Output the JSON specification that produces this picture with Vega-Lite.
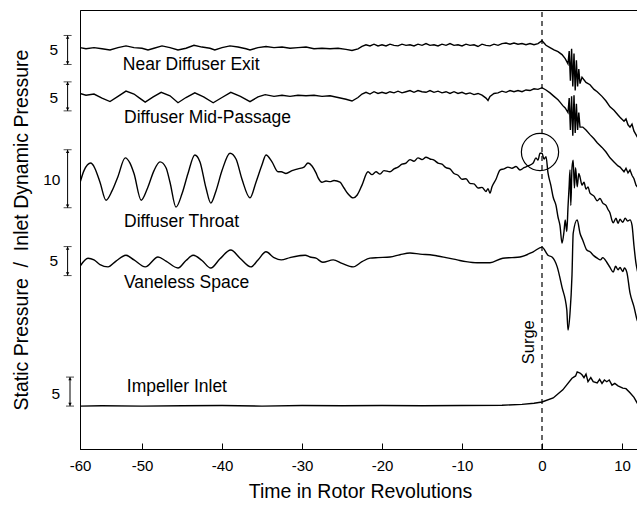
{
  "$schema": "https://vega.github.io/schema/vega-lite/v6.json",
  "width": 560,
  "height": 439,
  "autosize": "none",
  "padding": {"left": 80, "top": 10, "right": 0, "bottom": 59},
  "background": "white",
  "config": {
    "view": {"stroke": "black", "strokeWidth": 1},
    "font": "Liberation Sans",
    "text": {"font": "Liberation Sans", "color": "black"}
  },
  "datasets": {
    "traces": [
      {"s":"a","t":-57.75,"p":69.2},{"s":"a","t":-57,"p":69.0},{"s":"a","t":-56,"p":69.2},{"s":"a","t":-55,"p":69.0},{"s":"a","t":-54,"p":68.8},{"s":"a","t":-53,"p":69.2},{"s":"a","t":-52,"p":69.5},{"s":"a","t":-51,"p":69.2},{"s":"a","t":-50,"p":69.1},{"s":"a","t":-49.25,"p":68.8},{"s":"a","t":-48.5,"p":69.1},{"s":"a","t":-47.5,"p":69.5},{"s":"a","t":-46.5,"p":69.2},{"s":"a","t":-45.5,"p":68.8},{"s":"a","t":-44.5,"p":69.1},{"s":"a","t":-43.5,"p":69.6},{"s":"a","t":-42.5,"p":69.3},{"s":"a","t":-41.5,"p":69.1},{"s":"a","t":-40.9,"p":68.8},{"s":"a","t":-40,"p":69.2},{"s":"a","t":-39,"p":69.5},{"s":"a","t":-38,"p":69.3},{"s":"a","t":-37,"p":69.0},{"s":"a","t":-36.5,"p":68.8},{"s":"a","t":-35.5,"p":69.2},{"s":"a","t":-34.5,"p":69.4},{"s":"a","t":-33.5,"p":69.2},{"s":"a","t":-32.5,"p":69.3},{"s":"a","t":-31.5,"p":69.1},{"s":"a","t":-30.5,"p":69.2},{"s":"a","t":-29.5,"p":69.3},{"s":"a","t":-28.5,"p":69.0},{"s":"a","t":-27.5,"p":69.1},{"s":"a","t":-26.5,"p":69.0},{"s":"a","t":-25.5,"p":69.1},{"s":"a","t":-24.5,"p":68.9},{"s":"a","t":-23.75,"p":68.7},{"s":"a","t":-23,"p":69.0},{"s":"a","t":-22.5,"p":69.4},{"s":"a","t":-22,"p":69.7},{"s":"a","t":-21.5,"p":69.5},{"s":"a","t":-21,"p":69.8},{"s":"a","t":-20.5,"p":69.5},{"s":"a","t":-20,"p":69.7},{"s":"a","t":-19.5,"p":69.5},{"s":"a","t":-19,"p":69.8},{"s":"a","t":-18.5,"p":69.6},{"s":"a","t":-18,"p":69.5},{"s":"a","t":-17.5,"p":69.8},{"s":"a","t":-17,"p":69.6},{"s":"a","t":-16.5,"p":69.7},{"s":"a","t":-16,"p":69.5},{"s":"a","t":-15.5,"p":69.8},{"s":"a","t":-15,"p":69.6},{"s":"a","t":-14.5,"p":69.9},{"s":"a","t":-14,"p":69.6},{"s":"a","t":-13.5,"p":69.7},{"s":"a","t":-13,"p":69.5},{"s":"a","t":-12.5,"p":69.8},{"s":"a","t":-12,"p":69.6},{"s":"a","t":-11.5,"p":69.9},{"s":"a","t":-11,"p":69.6},{"s":"a","t":-10.5,"p":69.7},{"s":"a","t":-10,"p":69.5},{"s":"a","t":-9.5,"p":69.8},{"s":"a","t":-9,"p":69.6},{"s":"a","t":-8.5,"p":69.7},{"s":"a","t":-8,"p":69.4},{"s":"a","t":-7.5,"p":69.8},{"s":"a","t":-7,"p":69.6},{"s":"a","t":-6.5,"p":69.5},{"s":"a","t":-6,"p":69.8},{"s":"a","t":-5.5,"p":69.6},{"s":"a","t":-5,"p":69.9},{"s":"a","t":-4.5,"p":70.0},{"s":"a","t":-4,"p":69.8},{"s":"a","t":-3.5,"p":70.0},{"s":"a","t":-3,"p":69.8},{"s":"a","t":-2.5,"p":69.9},{"s":"a","t":-2,"p":69.7},{"s":"a","t":-1.5,"p":69.9},{"s":"a","t":-1,"p":69.7},{"s":"a","t":-0.5,"p":69.9},{"s":"a","t":0,"p":70.4},{"s":"a","t":0.5,"p":69.6},{"s":"a","t":1,"p":69.2},{"s":"a","t":1.5,"p":68.8},{"s":"a","t":2,"p":68.5},{"s":"a","t":2.5,"p":68.0},{"s":"a","t":2.9,"p":67.3},{"s":"a","t":3.25,"p":66.4},{"s":"a","t":3.4,"p":68.6},{"s":"a","t":3.55,"p":63.5},{"s":"a","t":3.7,"p":69.0},{"s":"a","t":3.85,"p":62.5},{"s":"a","t":4.0,"p":68.2},{"s":"a","t":4.15,"p":61.8},{"s":"a","t":4.3,"p":67.0},{"s":"a","t":4.45,"p":62.5},{"s":"a","t":4.6,"p":65.5},{"s":"a","t":4.75,"p":63.0},{"s":"a","t":5.0,"p":64.1},{"s":"a","t":5.5,"p":63.2},{"s":"a","t":6,"p":62.8},{"s":"a","t":6.5,"p":62.0},{"s":"a","t":6.9,"p":61.6},{"s":"a","t":7.5,"p":60.8},{"s":"a","t":8,"p":60.0},{"s":"a","t":8.5,"p":59.0},{"s":"a","t":9,"p":58.4},{"s":"a","t":9.5,"p":57.6},{"s":"a","t":9.75,"p":57.2},{"s":"a","t":10.25,"p":56.5},{"s":"a","t":10.5,"p":56.9},{"s":"a","t":10.75,"p":55.9},{"s":"a","t":11,"p":55.5},{"s":"a","t":11.25,"p":56.0},{"s":"a","t":11.5,"p":54.8},{"s":"a","t":11.75,"p":54.2},{"s":"a","t":11.9,"p":53.8},{"s":"a","t":12.2,"p":53.3},

      {"s":"b","t":-57.75,"p":61.3},{"s":"b","t":-57,"p":61.0},{"s":"b","t":-56,"p":61.2},{"s":"b","t":-55,"p":60.5},{"s":"b","t":-54,"p":59.9},{"s":"b","t":-53,"p":60.8},{"s":"b","t":-52,"p":61.7},{"s":"b","t":-51,"p":61.2},{"s":"b","t":-50.3,"p":60.5},{"s":"b","t":-49.6,"p":59.8},{"s":"b","t":-48.6,"p":60.7},{"s":"b","t":-47.6,"p":61.5},{"s":"b","t":-46.5,"p":60.9},{"s":"b","t":-45.5,"p":59.7},{"s":"b","t":-44.5,"p":60.6},{"s":"b","t":-43.4,"p":61.4},{"s":"b","t":-42.3,"p":60.7},{"s":"b","t":-41.1,"p":59.7},{"s":"b","t":-40,"p":60.6},{"s":"b","t":-38.9,"p":61.5},{"s":"b","t":-37.7,"p":60.8},{"s":"b","t":-36.5,"p":59.9},{"s":"b","t":-35.5,"p":60.7},{"s":"b","t":-34.6,"p":61.1},{"s":"b","t":-33.5,"p":60.8},{"s":"b","t":-32.5,"p":61.0},{"s":"b","t":-31.5,"p":60.8},{"s":"b","t":-30.5,"p":61.0},{"s":"b","t":-29.5,"p":60.9},{"s":"b","t":-28.5,"p":61.0},{"s":"b","t":-27.5,"p":60.8},{"s":"b","t":-26.5,"p":60.9},{"s":"b","t":-25.5,"p":60.6},{"s":"b","t":-24.5,"p":60.3},{"s":"b","t":-23.75,"p":60.0},{"s":"b","t":-23,"p":60.6},{"s":"b","t":-22.5,"p":61.2},{"s":"b","t":-22,"p":61.5},{"s":"b","t":-21.5,"p":61.2},{"s":"b","t":-21,"p":61.6},{"s":"b","t":-20.5,"p":61.3},{"s":"b","t":-20,"p":61.5},{"s":"b","t":-19.5,"p":61.3},{"s":"b","t":-19,"p":61.6},{"s":"b","t":-18.5,"p":61.4},{"s":"b","t":-18,"p":61.7},{"s":"b","t":-17.5,"p":61.4},{"s":"b","t":-17,"p":61.6},{"s":"b","t":-16.5,"p":61.8},{"s":"b","t":-16,"p":61.5},{"s":"b","t":-15.5,"p":61.8},{"s":"b","t":-15,"p":61.6},{"s":"b","t":-14.5,"p":61.5},{"s":"b","t":-14,"p":61.8},{"s":"b","t":-13.5,"p":61.5},{"s":"b","t":-13,"p":61.7},{"s":"b","t":-12.5,"p":61.4},{"s":"b","t":-12,"p":61.6},{"s":"b","t":-11.5,"p":61.3},{"s":"b","t":-11,"p":61.6},{"s":"b","t":-10.5,"p":61.3},{"s":"b","t":-10,"p":61.5},{"s":"b","t":-9.5,"p":61.2},{"s":"b","t":-9,"p":61.4},{"s":"b","t":-8.5,"p":61.1},{"s":"b","t":-8,"p":61.3},{"s":"b","t":-7.5,"p":61.0},{"s":"b","t":-7,"p":60.5},{"s":"b","t":-6.75,"p":60.1},{"s":"b","t":-6.5,"p":60.8},{"s":"b","t":-6,"p":61.3},{"s":"b","t":-5.5,"p":61.4},{"s":"b","t":-5,"p":61.7},{"s":"b","t":-4.5,"p":61.5},{"s":"b","t":-4,"p":61.8},{"s":"b","t":-3.5,"p":61.6},{"s":"b","t":-3,"p":61.8},{"s":"b","t":-2.5,"p":61.6},{"s":"b","t":-2,"p":61.9},{"s":"b","t":-1.5,"p":61.8},{"s":"b","t":-1,"p":62.1},{"s":"b","t":-0.5,"p":62.0},{"s":"b","t":0,"p":62.3},{"s":"b","t":0.5,"p":61.9},{"s":"b","t":1,"p":61.4},{"s":"b","t":1.5,"p":60.8},{"s":"b","t":2,"p":60.2},{"s":"b","t":2.25,"p":59.8},{"s":"b","t":2.6,"p":59.2},{"s":"b","t":2.9,"p":58.8},{"s":"b","t":3.25,"p":58.0},{"s":"b","t":3.4,"p":60.5},{"s":"b","t":3.55,"p":55.0},{"s":"b","t":3.7,"p":60.8},{"s":"b","t":3.85,"p":54.0},{"s":"b","t":4.0,"p":61.0},{"s":"b","t":4.15,"p":54.5},{"s":"b","t":4.3,"p":59.5},{"s":"b","t":4.45,"p":55.0},{"s":"b","t":4.6,"p":58.0},{"s":"b","t":4.75,"p":55.5},{"s":"b","t":5.1,"p":55.5},{"s":"b","t":5.5,"p":55.0},{"s":"b","t":6,"p":54.2},{"s":"b","t":6.5,"p":53.5},{"s":"b","t":6.9,"p":52.8},{"s":"b","t":7.5,"p":52.0},{"s":"b","t":8,"p":51.2},{"s":"b","t":8.5,"p":50.2},{"s":"b","t":9,"p":49.5},{"s":"b","t":9.5,"p":48.8},{"s":"b","t":9.75,"p":48.6},{"s":"b","t":10.25,"p":47.8},{"s":"b","t":10.5,"p":48.4},{"s":"b","t":10.75,"p":47.6},{"s":"b","t":11,"p":48.1},{"s":"b","t":11.25,"p":47.2},{"s":"b","t":11.5,"p":46.6},{"s":"b","t":11.75,"p":45.5},{"s":"b","t":11.9,"p":45.2},{"s":"b","t":12.2,"p":44.8},

      {"s":"c","t":-57.75,"p":45.9},{"s":"c","t":-57.25,"p":48.0},{"s":"c","t":-56.4,"p":49.3},{"s":"c","t":-56,"p":48.7},{"s":"c","t":-55.25,"p":46.0},{"s":"c","t":-54.5,"p":42.9},{"s":"c","t":-53.75,"p":44.5},{"s":"c","t":-53,"p":47.0},{"s":"c","t":-52.1,"p":50.2},{"s":"c","t":-51.5,"p":49.3},{"s":"c","t":-51,"p":47.5},{"s":"c","t":-50.1,"p":42.9},{"s":"c","t":-49.3,"p":45.0},{"s":"c","t":-48.5,"p":48.0},{"s":"c","t":-47.75,"p":49.5},{"s":"c","t":-47,"p":48.5},{"s":"c","t":-46.5,"p":46.0},{"s":"c","t":-45.75,"p":41.7},{"s":"c","t":-45,"p":44.0},{"s":"c","t":-44.25,"p":47.5},{"s":"c","t":-43.4,"p":50.7},{"s":"c","t":-42.75,"p":49.5},{"s":"c","t":-42,"p":45.0},{"s":"c","t":-41.4,"p":42.4},{"s":"c","t":-40.75,"p":44.5},{"s":"c","t":-40,"p":48.0},{"s":"c","t":-39,"p":51.0},{"s":"c","t":-38.25,"p":50.0},{"s":"c","t":-37.5,"p":46.5},{"s":"c","t":-36.5,"p":43.3},{"s":"c","t":-35.75,"p":46.0},{"s":"c","t":-35,"p":49.0},{"s":"c","t":-34.5,"p":50.7},{"s":"c","t":-33.75,"p":49.5},{"s":"c","t":-33,"p":47.8},{"s":"c","t":-32.6,"p":47.8},{"s":"c","t":-32,"p":47.5},{"s":"c","t":-31.25,"p":48.0},{"s":"c","t":-30.5,"p":48.3},{"s":"c","t":-29.75,"p":48.6},{"s":"c","t":-29.25,"p":49.3},{"s":"c","t":-28.75,"p":48.8},{"s":"c","t":-28.25,"p":47.6},{"s":"c","t":-28,"p":46.8},{"s":"c","t":-27.5,"p":46.0},{"s":"c","t":-27,"p":46.2},{"s":"c","t":-26.5,"p":46.1},{"s":"c","t":-26,"p":46.3},{"s":"c","t":-25.25,"p":46.0},{"s":"c","t":-24.75,"p":45.0},{"s":"c","t":-24.25,"p":44.0},{"s":"c","t":-23.6,"p":43.3},{"s":"c","t":-23.1,"p":43.8},{"s":"c","t":-22.5,"p":45.5},{"s":"c","t":-21.75,"p":47.8},{"s":"c","t":-21.25,"p":47.3},{"s":"c","t":-20.75,"p":47.8},{"s":"c","t":-20.25,"p":47.4},{"s":"c","t":-19.75,"p":48.0},{"s":"c","t":-19,"p":47.8},{"s":"c","t":-18.5,"p":48.3},{"s":"c","t":-18,"p":48.6},{"s":"c","t":-17.5,"p":49.1},{"s":"c","t":-17,"p":49.3},{"s":"c","t":-16.5,"p":49.9},{"s":"c","t":-16,"p":49.6},{"s":"c","t":-15.5,"p":50.2},{"s":"c","t":-15,"p":49.9},{"s":"c","t":-14.5,"p":50.3},{"s":"c","t":-14,"p":50.0},{"s":"c","t":-13.5,"p":49.8},{"s":"c","t":-13,"p":49.3},{"s":"c","t":-12.5,"p":49.1},{"s":"c","t":-12,"p":48.5},{"s":"c","t":-11.5,"p":48.3},{"s":"c","t":-11,"p":47.5},{"s":"c","t":-10.5,"p":47.2},{"s":"c","t":-10,"p":46.5},{"s":"c","t":-9.5,"p":46.6},{"s":"c","t":-9,"p":45.8},{"s":"c","t":-8.5,"p":45.7},{"s":"c","t":-8,"p":45.0},{"s":"c","t":-7.5,"p":45.1},{"s":"c","t":-7,"p":44.4},{"s":"c","t":-6.75,"p":44.9},{"s":"c","t":-6.5,"p":44.1},{"s":"c","t":-6.25,"p":45.2},{"s":"c","t":-5.75,"p":46.5},{"s":"c","t":-5.25,"p":48.1},{"s":"c","t":-4.75,"p":48.3},{"s":"c","t":-4.25,"p":48.6},{"s":"c","t":-3.75,"p":48.4},{"s":"c","t":-3.25,"p":48.7},{"s":"c","t":-2.75,"p":48.1},{"s":"c","t":-2.25,"p":48.5},{"s":"c","t":-1.75,"p":48.8},{"s":"c","t":-1.1,"p":49.3},{"s":"c","t":-0.75,"p":50.2},{"s":"c","t":-0.5,"p":49.8},{"s":"c","t":-0.25,"p":51.0},{"s":"c","t":0,"p":51.0},{"s":"c","t":0.25,"p":50.0},{"s":"c","t":0.5,"p":50.4},{"s":"c","t":0.75,"p":47.6},{"s":"c","t":1.1,"p":45.5},{"s":"c","t":1.4,"p":43.4},{"s":"c","t":1.75,"p":42.0},{"s":"c","t":2,"p":40.0},{"s":"c","t":2.25,"p":38.5},{"s":"c","t":2.5,"p":35.5},{"s":"c","t":2.75,"p":37.5},{"s":"c","t":2.9,"p":39.5},{"s":"c","t":3.1,"p":37.5},{"s":"c","t":3.25,"p":41.7},{"s":"c","t":3.4,"p":45.5},{"s":"c","t":3.5,"p":48.1},{"s":"c","t":3.6,"p":42.0},{"s":"c","t":3.75,"p":48.5},{"s":"c","t":3.9,"p":49.8},{"s":"c","t":4.05,"p":45.0},{"s":"c","t":4.2,"p":48.5},{"s":"c","t":4.4,"p":45.2},{"s":"c","t":4.6,"p":47.5},{"s":"c","t":4.75,"p":46.9},{"s":"c","t":5,"p":45.5},{"s":"c","t":5.25,"p":46.0},{"s":"c","t":5.5,"p":44.8},{"s":"c","t":5.75,"p":45.2},{"s":"c","t":6,"p":44.1},{"s":"c","t":6.5,"p":43.6},{"s":"c","t":6.9,"p":42.8},{"s":"c","t":7.25,"p":43.2},{"s":"c","t":7.6,"p":42.4},{"s":"c","t":8,"p":42.0},{"s":"c","t":8.25,"p":41.3},{"s":"c","t":8.5,"p":40.7},{"s":"c","t":8.75,"p":39.4},{"s":"c","t":8.9,"p":39.0},{"s":"c","t":9.25,"p":39.8},{"s":"c","t":9.5,"p":38.9},{"s":"c","t":9.75,"p":39.6},{"s":"c","t":10.1,"p":39.1},{"s":"c","t":10.4,"p":39.8},{"s":"c","t":10.7,"p":39.3},{"s":"c","t":11,"p":39.5},{"s":"c","t":11.25,"p":38.6},{"s":"c","t":11.5,"p":35.0},{"s":"c","t":11.75,"p":32.0},{"s":"c","t":11.9,"p":30.9},{"s":"c","t":12.2,"p":29.5},

      {"s":"d","t":-57.75,"p":31.5},{"s":"d","t":-56.75,"p":32.9},{"s":"d","t":-56,"p":32.6},{"s":"d","t":-55.25,"p":31.8},{"s":"d","t":-54.25,"p":31.4},{"s":"d","t":-53.25,"p":32.4},{"s":"d","t":-52,"p":33.4},{"s":"d","t":-51,"p":32.6},{"s":"d","t":-49.6,"p":31.4},{"s":"d","t":-48,"p":33.1},{"s":"d","t":-47,"p":32.4},{"s":"d","t":-45.5,"p":31.2},{"s":"d","t":-44.5,"p":32.5},{"s":"d","t":-43.6,"p":33.4},{"s":"d","t":-42.5,"p":32.5},{"s":"d","t":-41.4,"p":31.2},{"s":"d","t":-40.25,"p":32.8},{"s":"d","t":-38.9,"p":34.3},{"s":"d","t":-37.75,"p":32.9},{"s":"d","t":-36.4,"p":31.4},{"s":"d","t":-35.5,"p":32.6},{"s":"d","t":-34.5,"p":34.0},{"s":"d","t":-33.5,"p":33.0},{"s":"d","t":-32.6,"p":32.6},{"s":"d","t":-31.5,"p":33.0},{"s":"d","t":-29.6,"p":33.4},{"s":"d","t":-29,"p":33.1},{"s":"d","t":-28.25,"p":32.9},{"s":"d","t":-27.4,"p":32.2},{"s":"d","t":-26.1,"p":32.6},{"s":"d","t":-25,"p":32.0},{"s":"d","t":-23.6,"p":31.4},{"s":"d","t":-22.5,"p":32.3},{"s":"d","t":-21.5,"p":32.9},{"s":"d","t":-20.5,"p":33.0},{"s":"d","t":-19,"p":33.1},{"s":"d","t":-17.75,"p":33.5},{"s":"d","t":-16.5,"p":33.8},{"s":"d","t":-15.25,"p":33.6},{"s":"d","t":-13.6,"p":33.4},{"s":"d","t":-12,"p":33.0},{"s":"d","t":-10.6,"p":32.6},{"s":"d","t":-9.5,"p":32.3},{"s":"d","t":-8.1,"p":32.1},{"s":"d","t":-6.5,"p":32.1},{"s":"d","t":-4.9,"p":32.9},{"s":"d","t":-3.75,"p":33.0},{"s":"d","t":-2.75,"p":33.1},{"s":"d","t":-1.1,"p":34.0},{"s":"d","t":0,"p":34.8},{"s":"d","t":0.75,"p":33.4},{"s":"d","t":1.25,"p":33.1},{"s":"d","t":1.9,"p":31.4},{"s":"d","t":2.5,"p":27.9},{"s":"d","t":3.1,"p":24.0},{"s":"d","t":3.25,"p":20.5},{"s":"d","t":3.5,"p":23.4},{"s":"d","t":3.75,"p":30.0},{"s":"d","t":3.9,"p":37.2},{"s":"d","t":4.4,"p":39.5},{"s":"d","t":4.75,"p":37.2},{"s":"d","t":5.1,"p":36.0},{"s":"d","t":5.6,"p":34.3},{"s":"d","t":6,"p":34.0},{"s":"d","t":6.5,"p":33.3},{"s":"d","t":6.9,"p":32.9},{"s":"d","t":7.3,"p":32.6},{"s":"d","t":7.6,"p":33.0},{"s":"d","t":8.1,"p":32.2},{"s":"d","t":8.5,"p":31.3},{"s":"d","t":8.9,"p":30.5},{"s":"d","t":9.2,"p":31.5},{"s":"d","t":9.5,"p":30.9},{"s":"d","t":9.75,"p":31.3},{"s":"d","t":10.1,"p":30.6},{"s":"d","t":10.3,"p":31.2},{"s":"d","t":10.6,"p":30.5},{"s":"d","t":11,"p":26.9},{"s":"d","t":11.5,"p":24.5},{"s":"d","t":11.9,"p":22.2},{"s":"d","t":12.2,"p":21.5},

      {"s":"e","t":-57.75,"p":7.4},{"s":"e","t":-55,"p":7.45},{"s":"e","t":-50,"p":7.4},{"s":"e","t":-45,"p":7.45},{"s":"e","t":-40,"p":7.5},{"s":"e","t":-35,"p":7.4},{"s":"e","t":-30,"p":7.5},{"s":"e","t":-25,"p":7.45},{"s":"e","t":-20,"p":7.5},{"s":"e","t":-15,"p":7.45},{"s":"e","t":-10,"p":7.5},{"s":"e","t":-5,"p":7.55},{"s":"e","t":-2.5,"p":7.7},{"s":"e","t":-1,"p":7.9},{"s":"e","t":0,"p":8.1},{"s":"e","t":1.4,"p":8.8},{"s":"e","t":2.6,"p":10.2},{"s":"e","t":3.75,"p":12.2},{"s":"e","t":4.2,"p":12.6},{"s":"e","t":4.4,"p":13.3},{"s":"e","t":4.75,"p":13.1},{"s":"e","t":5,"p":12.8},{"s":"e","t":5.25,"p":12.3},{"s":"e","t":5.5,"p":12.9},{"s":"e","t":5.75,"p":11.6},{"s":"e","t":6.1,"p":12.3},{"s":"e","t":6.4,"p":11.6},{"s":"e","t":6.9,"p":11.4},{"s":"e","t":7.2,"p":12.0},{"s":"e","t":7.5,"p":11.3},{"s":"e","t":7.8,"p":11.9},{"s":"e","t":8.1,"p":11.6},{"s":"e","t":8.4,"p":11.9},{"s":"e","t":8.75,"p":11.0},{"s":"e","t":9.1,"p":11.3},{"s":"e","t":9.5,"p":10.9},{"s":"e","t":10.1,"p":10.5},{"s":"e","t":10.5,"p":10.4},{"s":"e","t":11,"p":9.7},{"s":"e","t":11.5,"p":8.9},{"s":"e","t":11.9,"p":7.9},{"s":"e","t":12.2,"p":7.4}
    ],
    "bars": [
      {"t":-59.3,"p":66.3,"p2":71.3},
      {"t":-59.3,"p":58.3,"p2":63.3},
      {"t":-59.3,"p":41.6,"p2":51.6},
      {"t":-59.3,"p":29.9,"p2":34.9},
      {"t":-59.0,"p":7.4,"p2":12.4}
    ],
    "caps": [
      {"t":-59.3,"p":66.3,"end":"lo"},{"t":-59.3,"p":71.3,"end":"hi"},
      {"t":-59.3,"p":58.3,"end":"lo"},{"t":-59.3,"p":63.3,"end":"hi"},
      {"t":-59.3,"p":41.6,"end":"lo"},{"t":-59.3,"p":51.6,"end":"hi"},
      {"t":-59.3,"p":29.9,"end":"lo"},{"t":-59.3,"p":34.9,"end":"hi"},
      {"t":-59.0,"p":7.4,"end":"lo"},{"t":-59.0,"p":12.4,"end":"hi"}
    ],
    "arrows": [
      {"t":-59.3,"p":66.6,"end":"lo"},{"t":-59.3,"p":71.0,"end":"hi"},
      {"t":-59.3,"p":58.6,"end":"lo"},{"t":-59.3,"p":63.0,"end":"hi"},
      {"t":-59.3,"p":41.9,"end":"lo"},{"t":-59.3,"p":51.3,"end":"hi"},
      {"t":-59.3,"p":30.2,"end":"lo"},{"t":-59.3,"p":34.6,"end":"hi"},
      {"t":-59.0,"p":7.7,"end":"lo"},{"t":-59.0,"p":12.1,"end":"hi"}
    ],
    "barlabels": [
      {"t":-60.5,"p":68.8,"txt":"5"},
      {"t":-60.5,"p":60.5,"txt":"5"},
      {"t":-60.2,"p":46.4,"txt":"10"},
      {"t":-60.5,"p":32.5,"txt":"5"},
      {"t":-60.25,"p":9.5,"txt":"5"}
    ],
    "labels": [
      {"t":-52.4,"p":66.2,"txt":"Near Diffuser Exit"},
      {"t":-52.25,"p":57.1,"txt":"Diffuser Mid-Passage"},
      {"t":-52.25,"p":39.1,"txt":"Diffuser Throat"},
      {"t":-52.25,"p":28.6,"txt":"Vaneless Space"},
      {"t":-51.9,"p":10.7,"txt":"Impeller Inlet"}
    ]
  },
  "encoding": {
    "x": {
      "field": "t", "type": "quantitative",
      "scale": {"domain": [-57.75, 12.25], "nice": false, "zero": false},
      "title": "Time in Rotor Revolutions",
      "axis": {
        "values": [-57.75, -50, -40, -30, -20, -10, 0, 10],
        "labelExpr": "datum.value < -55 ? '-60' : '' + datum.value",
        "grid": false, "tickSize": -6, "tickColor": "black", "tickWidth": 1,
        "domainColor": "black", "domainWidth": 1,
        "labelColor": "black", "labelFont": "Liberation Sans", "labelFontSize": 15, "labelPadding": 15,
        "labelFlush": false,
        "titleColor": "black", "titleFont": "Liberation Sans", "titleFontSize": 19.5, "titleFontWeight": "normal", "titlePadding": 9
      }
    },
    "y": {
      "field": "p", "type": "quantitative",
      "scale": {"domain": [0, 75.69], "nice": false, "zero": false},
      "title": "Static Pressure \u00a0/\u00a0 Inlet Dynamic Pressure",
      "axis": {
        "labels": false, "ticks": false, "grid": false,
        "domainColor": "black", "domainWidth": 1,
        "titleColor": "black", "titleFont": "Liberation Sans", "titleFontSize": 19.5, "titleFontWeight": "normal", "titlePadding": 49
      }
    }
  },
  "layer": [
    {
      "data": {"name": "traces"},
      "transform": [{"filter": "datum.s == 'c' || datum.s == 'd'"}],
      "mark": {"type": "line", "stroke": "black", "strokeWidth": 1.4, "clip": true, "interpolate": "monotone"},
      "encoding": {"detail": {"field": "s"}}
    },
    {
      "data": {"name": "traces"},
      "transform": [{"filter": "datum.s != 'c' && datum.s != 'd'"}],
      "mark": {"type": "line", "stroke": "black", "strokeWidth": 1.4, "clip": true},
      "encoding": {"detail": {"field": "s"}}
    },
    {
      "data": {"values": [{"t": 0, "p": 0, "p2": 75.69}]},
      "mark": {"type": "rule", "stroke": "black", "strokeWidth": 1.2, "strokeDash": [5, 4]},
      "encoding": {"y2": {"field": "p2"}}
    },
    {
      "data": {"values": [{"t": -0.25, "p": 51.2}]},
      "mark": {"type": "point", "shape": "circle", "filled": false, "size": 1385, "stroke": "black", "strokeWidth": 1.2, "opacity": 1}
    },
    {
      "data": {"name": "labels"},
      "mark": {"type": "text", "align": "left", "baseline": "middle", "fontSize": 17.5, "font": "Liberation Sans", "color": "black"},
      "encoding": {"text": {"field": "txt"}}
    },
    {
      "data": {"values": [{"t": -1.6, "p": 18.4, "txt": "Surge"}]},
      "mark": {"type": "text", "align": "center", "baseline": "middle", "angle": 270, "fontSize": 16.5, "font": "Liberation Sans", "color": "black"},
      "encoding": {"text": {"field": "txt"}}
    },
    {
      "data": {"name": "bars"},
      "mark": {"type": "rule", "stroke": "black", "strokeWidth": 1},
      "encoding": {"y2": {"field": "p2"}}
    },
    {
      "data": {"name": "caps"},
      "mark": {"type": "tick", "orient": "horizontal", "size": 8, "thickness": 1, "color": "black"}
    },
    {
      "data": {"name": "arrows"},
      "transform": [{"filter": "datum.end == 'hi'"}],
      "mark": {"type": "point", "shape": "triangle-up", "filled": true, "size": 12, "color": "black", "opacity": 1}
    },
    {
      "data": {"name": "arrows"},
      "transform": [{"filter": "datum.end == 'lo'"}],
      "mark": {"type": "point", "shape": "triangle-down", "filled": true, "size": 12, "color": "black", "opacity": 1}
    },
    {
      "data": {"name": "barlabels"},
      "mark": {"type": "text", "align": "right", "baseline": "middle", "fontSize": 15.5, "font": "Liberation Sans", "color": "black"},
      "encoding": {"text": {"field": "txt"}}
    }
  ]
}
